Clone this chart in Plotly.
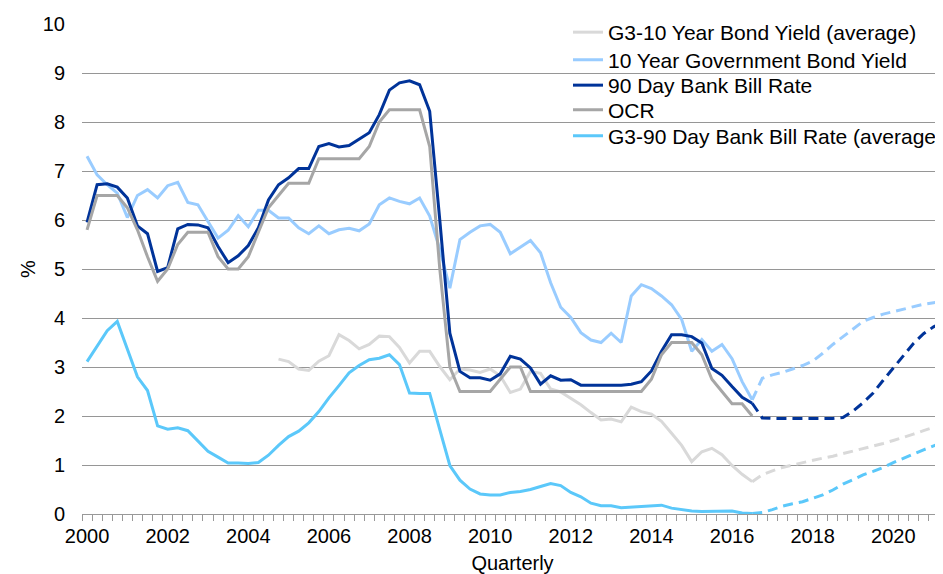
import plotly.graph_objects as go

# Quarterly categories: 2000Q1 .. 2021Q2 (x as decimal year)
quarters = [2000 + i / 4 for i in range(86)]

# Historical series (index 0 = 2000Q1, index 66 = 2016Q3)
bank_bill_90d = [5.95, 6.72, 6.74, 6.67, 6.45, 5.88, 5.72, 4.95, 5.03, 5.82,
                 5.91, 5.90, 5.84, 5.46, 5.13, 5.27, 5.48, 5.84, 6.41, 6.72,
                 6.86, 7.05, 7.05, 7.50, 7.56, 7.49, 7.52, 7.65, 7.78, 8.15,
                 8.65, 8.80, 8.84, 8.76, 8.22, 6.00, 3.69, 2.91, 2.78, 2.78,
                 2.73, 2.86, 3.22, 3.16, 2.98, 2.65, 2.82, 2.73, 2.74, 2.63,
                 2.63, 2.63, 2.63, 2.63, 2.65, 2.70, 2.92, 3.32, 3.66, 3.66,
                 3.62, 3.49, 2.97, 2.83, 2.60, 2.38, 2.26]

ocr = [5.80, 6.50, 6.50, 6.50, 6.25, 5.80, 5.25, 4.75, 5.00, 5.50,
       5.75, 5.75, 5.75, 5.25, 5.00, 5.00, 5.25, 5.75, 6.25, 6.50,
       6.75, 6.75, 6.75, 7.25, 7.25, 7.25, 7.25, 7.25, 7.50, 8.00,
       8.25, 8.25, 8.25, 8.25, 7.50, 5.00, 3.00, 2.50, 2.50, 2.50,
       2.50, 2.75, 3.00, 3.00, 2.50, 2.50, 2.50, 2.50, 2.50, 2.50,
       2.50, 2.50, 2.50, 2.50, 2.50, 2.50, 2.75, 3.25, 3.50, 3.50,
       3.50, 3.25, 2.75, 2.50, 2.25, 2.25, 2.00]

gov_bond_10y = [7.30, 6.92, 6.72, 6.55, 6.05, 6.50, 6.62, 6.45, 6.70, 6.77,
                6.36, 6.31, 5.97, 5.63, 5.79, 6.09, 5.86, 6.20, 6.20, 6.04,
                6.04, 5.84, 5.72, 5.88, 5.72, 5.80, 5.83, 5.78, 5.92, 6.31,
                6.45, 6.38, 6.33, 6.45, 6.08, 5.40, 4.61, 5.60, 5.75, 5.88,
                5.91, 5.75, 5.31, 5.45, 5.58, 5.33, 4.72, 4.22, 4.01, 3.70,
                3.55, 3.50, 3.69, 3.50, 4.45, 4.68, 4.60, 4.45, 4.27, 3.97,
                3.32, 3.56, 3.32, 3.46, 3.17, 2.70, 2.33]

# G3-10 year starts at 2004Q4 (index 19)
g3_bond_10y = [None] * 19 + [
    3.16, 3.11, 2.96, 2.93, 3.12, 3.23, 3.66, 3.54, 3.37, 3.46,
    3.63, 3.62, 3.40, 3.08, 3.32, 3.32, 3.01, 2.74, 2.96, 2.94,
    2.89, 2.96, 2.82, 2.48, 2.55, 2.91, 2.87, 2.55, 2.49, 2.36,
    2.23, 2.07, 1.92, 1.94, 1.88, 2.18, 2.09, 2.04, 1.89, 1.65,
    1.40, 1.07, 1.27, 1.34, 1.21, 0.99, 0.81, 0.66]

g3_bill_90d = [3.11, 3.42, 3.74, 3.93, 3.38, 2.80, 2.52, 1.80, 1.73, 1.76,
               1.70, 1.49, 1.28, 1.16, 1.04, 1.04, 1.03, 1.05, 1.20, 1.40,
               1.58, 1.69, 1.86, 2.09, 2.37, 2.62, 2.88, 3.03, 3.15, 3.18,
               3.25, 3.05, 2.47, 2.46, 2.46, 1.72, 0.99, 0.69, 0.51, 0.41,
               0.39, 0.39, 0.44, 0.46, 0.50, 0.56, 0.62, 0.58, 0.44, 0.35,
               0.22, 0.17, 0.17, 0.13, 0.14, 0.16, 0.17, 0.18, 0.12, 0.09,
               0.06, 0.05, 0.05, 0.05, 0.06, 0.02, 0.01]

# Forecasts (index 66 = 2016Q3 .. index 85 = 2021Q2)
fc_start = 66
fc_bank_bill_90d = [2.26, 1.96, 1.95, 1.95, 1.95, 1.95, 1.95, 1.95, 1.95, 1.97,
                    2.10, 2.27, 2.47, 2.73, 2.98, 3.25, 3.48, 3.68, 3.82, 3.92]
fc_gov_bond_10y = [2.33, 2.77, 2.84, 2.89, 2.96, 3.03, 3.12, 3.28, 3.46, 3.62,
                   3.78, 3.93, 4.01, 4.08, 4.13, 4.18, 4.23, 4.28, 4.31, 4.34]
fc_g3_bond_10y = [0.66, 0.80, 0.88, 0.95, 1.00, 1.05, 1.10, 1.14, 1.18, 1.23,
                  1.28, 1.33, 1.38, 1.44, 1.50, 1.56, 1.63, 1.70, 1.77, 1.84]
fc_g3_bill_90d = [0.01, 0.03, 0.09, 0.16, 0.21, 0.25, 0.32, 0.39, 0.49, 0.61,
                  0.70, 0.80, 0.87, 0.95, 1.05, 1.14, 1.22, 1.31, 1.39, 1.46]

year_ticks = [2000, 2002, 2004, 2006, 2008, 2010, 2012, 2014, 2016, 2018, 2020]
y_ticks = [0, 1, 2, 3, 4, 5, 6, 7, 8, 9, 10]

C_G3BOND = "#D9D9D9"
C_GOV10 = "#99CCFF"
C_BILL = "#003399"
C_OCR = "#A6A6A6"
C_G3BILL = "#5BC8FA"

FONT = "Liberation Sans, Arial, sans-serif"
LW = 3
DASH = "10px,6px"

# Page body has an 8px default margin, so the figure is laid out shifted by
# that amount; the right/bottom parts beyond the window are simply not shown.
OFF = 8
W, H = 943, 574
ML, MR, MT, MB = 82 - OFF, OFF, 24 - OFF, 60 + OFF
PW, PH = W - ML - MR, H - MT - MB
# legend positions in window pixels
legend_left_px = 568
legend_rows_px = [32.5, 60, 85.5, 110, 136]

fig = go.Figure()
hist = [
    ("G3-10 Year Bond Yield (average)", g3_bond_10y, C_G3BOND),
    ("10 Year Government Bond Yield", gov_bond_10y, C_GOV10),
    ("90 Day Bank Bill Rate", bank_bill_90d, C_BILL),
    ("OCR", ocr, C_OCR),
    ("G3-90 Day Bank Bill Rate (average)", g3_bill_90d, C_G3BILL),
]
legend_names = ["legend", "legend2", "legend3", "legend4", "legend5"]
for (name, vals, col), lg in zip(hist, legend_names):
    fig.add_trace(go.Scatter(x=quarters[:len(vals)], y=vals, name=name, mode="lines",
                             line=dict(color=col, width=LW), connectgaps=False,
                             legend=lg, hoverinfo="skip"))

fc = [
    (fc_g3_bond_10y, C_G3BOND),
    (fc_gov_bond_10y, C_GOV10),
    (fc_bank_bill_90d, C_BILL),
    (fc_g3_bill_90d, C_G3BILL),
]
for vals, col in fc:
    fig.add_trace(go.Scatter(x=quarters[fc_start:fc_start + len(vals)], y=vals, mode="lines",
                             showlegend=False,
                             line=dict(color=col, width=LW, dash=DASH),
                             hoverinfo="skip"))

legend_layout = {}
for lg, row in zip(legend_names, legend_rows_px):
    legend_layout[lg] = dict(
        x=(legend_left_px - OFF - ML) / PW, y=(H - MB - (row - OFF)) / PH,
        xanchor="left", yanchor="middle",
        bgcolor="rgba(0,0,0,0)", borderwidth=0,
        font=dict(family=FONT, size=21, color="#000000"),
        itemwidth=30,
    )

fig.update_layout(
    width=W, height=H,
    margin=dict(l=ML, r=MR, t=MT, b=MB, autoexpand=False),
    paper_bgcolor="white", plot_bgcolor="white",
    font=dict(family=FONT, size=20, color="#000000"),
    showlegend=True,
    xaxis=dict(
        range=[1999.875, 2021.233], automargin=False,
        tickmode="array", tickvals=year_ticks, ticktext=[str(y) for y in year_ticks],
        tickangle=0,
        ticks="", showgrid=False, zeroline=False,
        showline=True, linecolor="#999999", linewidth=1,
        minor=dict(tick0=1999.875, dtick=0.25, ticks="outside", ticklen=6,
                   tickcolor="#999999", tickwidth=1, showgrid=False),
        ticklabelstandoff=4,
        title=dict(text="Quarterly", standoff=9, font=dict(family=FONT, size=20)),
    ),
    yaxis=dict(
        range=[0, 10], tickmode="array", tickvals=y_ticks, automargin=False,
        showgrid=True, gridcolor="#969696", gridwidth=1,
        zeroline=False, ticks="", ticklabelstandoff=16,
        title=dict(text="%", standoff=1, font=dict(family=FONT, size=20)),
    ),
    **legend_layout,
)

fig.write_html("out.html")
